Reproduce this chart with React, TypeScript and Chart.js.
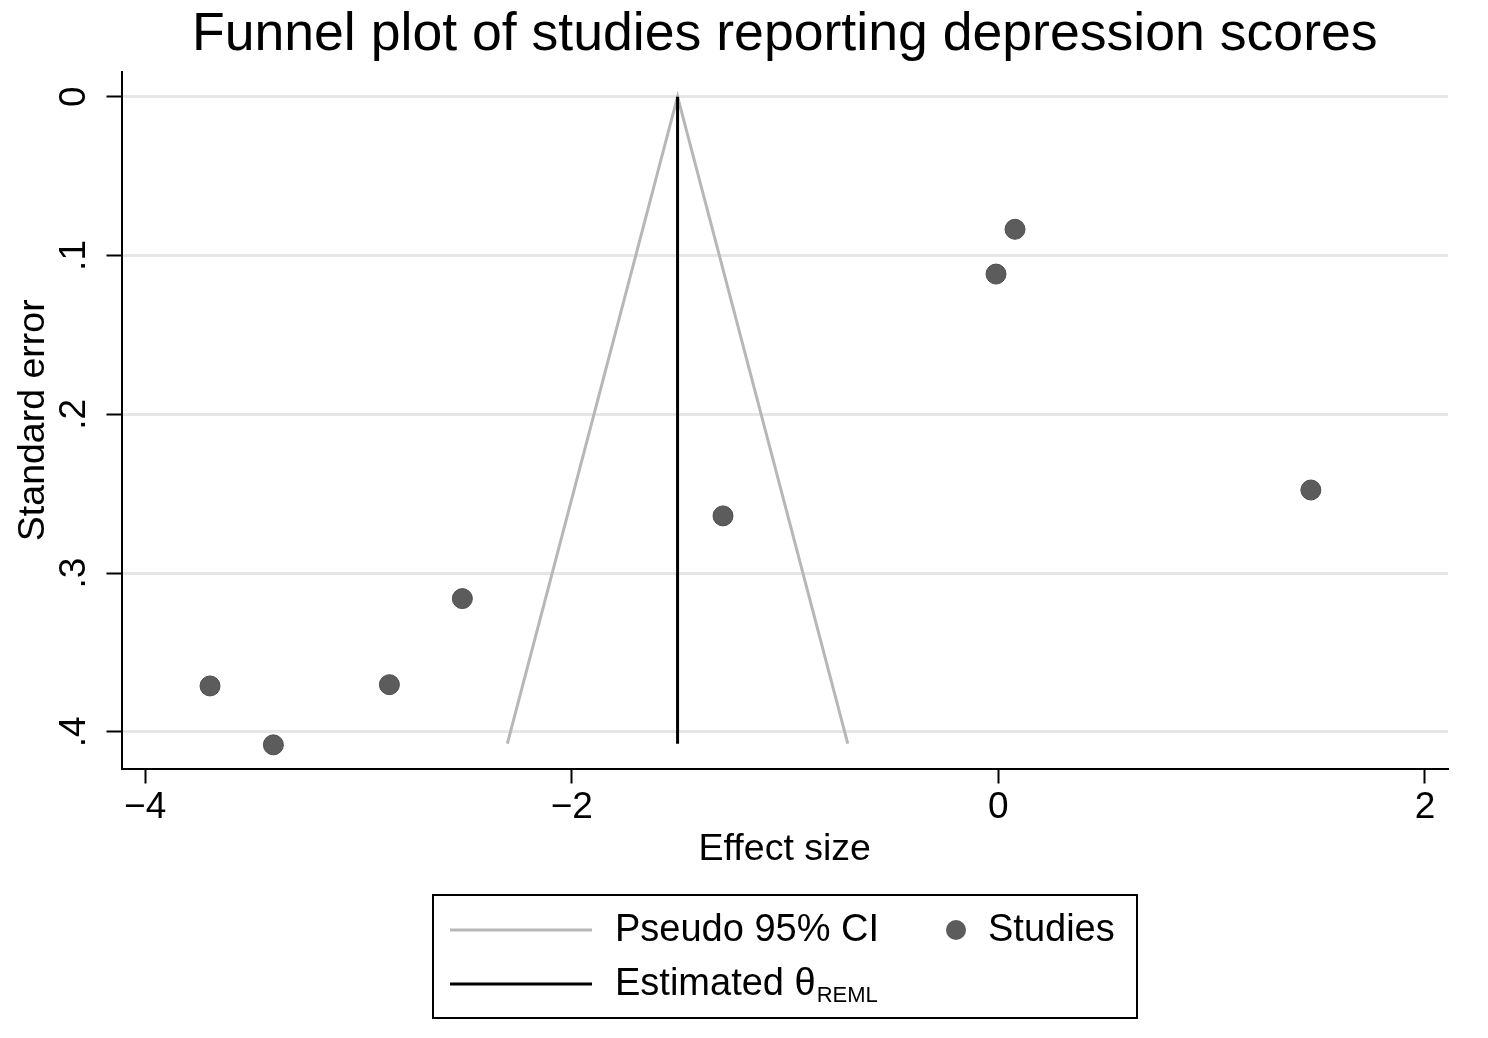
import React, { useEffect, useRef } from "react";
import { Chart, registerables } from "chart.js";

Chart.register(...registerables);

// ---- Data ----
const studyEffect: number[] = [-3.696, -3.399, -2.855, -2.513, -1.291, -0.011, 0.078, 1.465];
const studySE: number[] = [0.3711, 0.4082, 0.3703, 0.3161, 0.264, 0.1117, 0.0835, 0.2477];

const thetaREML = -1.504;
const maxSE = 0.4075;
const ciLowerAtMax = -2.302;
const ciUpperAtMax = -0.706;

const xTicks: number[] = [-4, -2, 0, 2];
const xTickLabels: string[] = ["\u22124", "\u22122", "0", "2"];
const yTicks: number[] = [0, 0.1, 0.2, 0.3, 0.4];
const yTickLabels: string[] = ["0", ".1", ".2", ".3", ".4"];

const titleText = "Funnel plot of studies reporting depression scores";
const xTitle = "Effect size";
const yTitle = "Standard error";
const legendCI = "Pseudo 95% CI";
const legendStudies = "Studies";
const legendEst = "Estimated \u03b8";
const legendEstSub = "REML";

const FONT = "'Liberation Sans', Arial, Helvetica, sans-serif";
const POINT_COLOR = "#5c5c5c";
const CI_COLOR = "#b7b7b7";

const legendPlugin = {
  id: "stataLegend",
  afterDraw(chart: any) {
    const ctx = chart.ctx as CanvasRenderingContext2D;
    ctx.save();
    // box
    ctx.strokeStyle = "#000";
    ctx.lineWidth = 2;
    ctx.strokeRect(433, 895, 704, 123);
    // CI line sample
    ctx.lineWidth = 3;
    ctx.strokeStyle = CI_COLOR;
    ctx.beginPath();
    ctx.moveTo(450, 930);
    ctx.lineTo(592, 930);
    ctx.stroke();
    // estimate line sample
    ctx.strokeStyle = "#000";
    ctx.beginPath();
    ctx.moveTo(450, 984);
    ctx.lineTo(592, 984);
    ctx.stroke();
    // dot
    ctx.fillStyle = POINT_COLOR;
    ctx.beginPath();
    ctx.arc(956, 930, 10, 0, Math.PI * 2);
    ctx.fill();
    // texts
    ctx.fillStyle = "#000";
    ctx.font = `38px ${FONT}`;
    ctx.textBaseline = "middle";
    ctx.textAlign = "left";
    ctx.fillText(legendCI, 615, 931);
    ctx.fillText(legendStudies, 988, 931);
    ctx.fillText(legendEst, 615, 985);
    const w = ctx.measureText(legendEst).width;
    ctx.font = `22px ${FONT}`;
    ctx.fillText(legendEstSub, 615 + w + 1, 996);
    ctx.restore();
  },
};

export default function App() {
  const ref = useRef<HTMLCanvasElement | null>(null);

  useEffect(() => {
    if (!ref.current) return;
    const chart = new Chart(ref.current, {
      type: "scatter",
      data: {
        datasets: [
          {
            label: legendStudies,
            data: studyEffect.map((x, i) => ({ x, y: studySE[i] })),
            pointRadius: 10,
            pointHoverRadius: 10,
            backgroundColor: POINT_COLOR,
            borderColor: "#4d4d4d",
            borderWidth: 1,
            showLine: false,
            order: 0,
          },
          {
            label: legendCI,
            type: "line",
            data: [
              { x: ciLowerAtMax, y: maxSE },
              { x: thetaREML, y: 0 },
              { x: ciUpperAtMax, y: maxSE },
            ],
            borderColor: CI_COLOR,
            borderWidth: 3,
            pointRadius: 0,
            fill: false,
            tension: 0,
            order: 2,
          } as any,
          {
            label: legendEst,
            type: "line",
            data: [
              { x: thetaREML, y: 0 },
              { x: thetaREML, y: maxSE },
            ],
            borderColor: "#000",
            borderWidth: 3,
            pointRadius: 0,
            fill: false,
            order: 1,
          } as any,
        ],
      },
      options: {
        animation: false,
        responsive: false,
        events: [],
        layout: { padding: { left: 0, right: 40, top: 0, bottom: 163.5 } },
        plugins: {
          legend: { display: false },
          tooltip: { enabled: false },
          title: {
            display: true,
            text: titleText,
            color: "#000",
            fullSize: false,
            font: { family: FONT, size: 53.6, weight: "normal", lineHeight: 1 },
            padding: { top: 8, bottom: 10.4 },
          },
        },
        scales: {
          x: {
            type: "linear",
            position: "bottom",
            min: -4.111,
            max: 2.108,
            afterBuildTicks: (axis: any) => {
              axis.ticks = xTicks.map((v) => ({ value: v }));
            },
            afterFit: (scale: any) => {
              scale.height = 106;
            },
            grid: {
              drawOnChartArea: false,
              drawTicks: true,
              tickLength: 15,
              tickWidth: 2,
              tickColor: "#000",
            },
            border: { display: true, color: "#000", width: 2 },
            ticks: {
              autoSkip: false,
              maxRotation: 0,
              minRotation: 0,
              padding: 2,
              color: "#000",
              font: { family: FONT, size: 37 },
              callback: (_v: any, i: number) => xTickLabels[i],
            },
            title: {
              display: true,
              text: xTitle,
              color: "#000",
              font: { family: FONT, size: 37.5 },
              padding: { top: 0, bottom: 2 },
            },
          },
          y: {
            type: "linear",
            position: "left",
            reverse: true,
            min: -0.01555,
            max: 0.4231,
            afterBuildTicks: (axis: any) => {
              axis.ticks = yTicks.map((v) => ({ value: v }));
            },
            afterFit: (scale: any) => {
              scale.width = 121.5;
            },
            grid: {
              color: "#e6e6e6",
              lineWidth: 3,
              drawTicks: true,
              tickLength: 15,
              tickWidth: 2,
              tickColor: "#000",
            },
            border: { display: true, color: "#000", width: 2 },
            ticks: {
              autoSkip: false,
              minRotation: 90,
              maxRotation: 90,
              crossAlign: "center",
              padding: 16,
              color: "#000",
              font: { family: FONT, size: 37 },
              callback: (_v: any, i: number) => yTickLabels[i],
            },
            title: {
              display: true,
              text: yTitle,
              color: "#000",
              font: { family: FONT, size: 37.5 },
              padding: { top: 11, bottom: 0 },
            },
          },
        },
      } as any,
      plugins: [legendPlugin],
    });
    return () => chart.destroy();
  }, []);

  return (
    <div style={{ position: "absolute", left: 0, top: 0, width: 1488, height: 1038, background: "#fff" }}>
      <canvas ref={ref} width={1488} height={1038} style={{ display: "block" }} />
    </div>
  );
}
